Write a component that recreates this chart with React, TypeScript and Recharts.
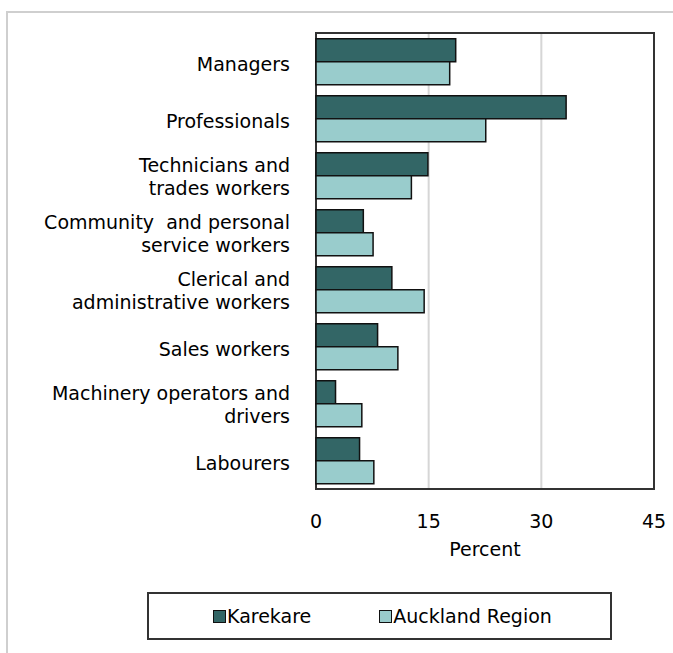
import { BarChart, Bar, XAxis, YAxis, CartesianGrid, ReferenceArea } from 'recharts';

const CATEGORIES = [
  'Managers',
  'Professionals',
  'Technicians and\ntrades workers',
  'Community  and personal\nservice workers',
  'Clerical and\nadministrative workers',
  'Sales workers',
  'Machinery operators and\ndrivers',
  'Labourers',
];
const KAREKARE = [18.6, 33.3, 14.9, 6.3, 10.1, 8.2, 2.6, 5.8];
const AUCKLAND = [17.8, 22.6, 12.7, 7.6, 14.4, 10.9, 6.1, 7.7];
const X_TICKS = [0, 15, 30, 45];

const FONT = '"DejaVu Sans", Verdana, sans-serif';
const FS = 19;
const DARK = '#336666';
const LIGHT = '#99CCCC';

const data = CATEGORIES.map((name, i) => ({
  name,
  karekare: KAREKARE[i],
  auckland: AUCKLAND[i],
}));

function CategoryTick(props: any) {
  const { y, payload } = props;
  const lines: string[] = String(payload.value).split('\n');
  const x = 290;
  if (lines.length === 1) {
    return (
      <text x={x} y={y} dy={9} textAnchor="end" fontSize={FS} fontFamily={FONT} fill="#000">
        {lines[0]}
      </text>
    );
  }
  return (
    <text x={x} y={y} textAnchor="end" fontSize={FS} fontFamily={FONT} fill="#000" style={{ whiteSpace: 'pre' }}>
      <tspan x={x} dy={-4}>{lines[0]}</tspan>
      <tspan x={x} dy={23}>{lines[1]}</tspan>
    </text>
  );
}

function AxisTitle(props: any) {
  const vb = props.viewBox || { x: 316, y: 489, width: 338 };
  return (
    <text x={vb.x + vb.width / 2} y={vb.y + 67} textAnchor="middle" fontSize={FS} fontFamily={FONT} fill="#000">
      Percent
    </text>
  );
}

function Swatch({ color }: { color: string }) {
  return (
    <span
      style={{
        display: 'inline-block',
        width: 13,
        height: 13,
        background: color,
        border: '1.5px solid #111',
        boxSizing: 'border-box',
        marginRight: 1,
      }}
    />
  );
}

export default function App() {
  return (
    <div style={{ position: 'absolute', left: 0, top: 0, width: 673, height: 653, background: '#fff', fontFamily: FONT }}>
      <div
        style={{
          position: 'absolute',
          left: 6,
          top: 11,
          width: 700,
          height: 700,
          borderLeft: '2px solid #cfcfcf',
          borderTop: '2px solid #cfcfcf',
        }}
      />
      <div style={{ position: 'absolute', left: 0, top: 0 }}>
        <BarChart
          width={673}
          height={653}
          data={data}
          layout="vertical"
          margin={{ top: 33, right: 19, bottom: 114, left: 0 }}
          barCategoryGap="10%"
          barGap={0}
        >
          <CartesianGrid horizontal={false} stroke="#d6d6d6" strokeWidth={2} />
          <XAxis
            type="number"
            domain={[0, 45]}
            ticks={X_TICKS}
            axisLine={false}
            tickLine={false}
            tickSize={0}
            tickMargin={26}
            height={50}
            tick={{ fill: '#000', fontSize: FS, fontFamily: FONT }}
            label={<AxisTitle />}
          />
          <YAxis
            type="category"
            dataKey="name"
            width={316}
            axisLine={false}
            tickLine={false}
            interval={0}
            tick={<CategoryTick />}
          />
          <Bar dataKey="karekare" fill={DARK} stroke="#111" strokeWidth={1.5} isAnimationActive={false} />
          <Bar dataKey="auckland" fill={LIGHT} stroke="#111" strokeWidth={1.5} isAnimationActive={false} />
          <ReferenceArea x1={0} x2={45} fill="none" stroke="#333" strokeWidth={2} ifOverflow="visible" />
        </BarChart>
      </div>
      <div
        style={{
          position: 'absolute',
          left: 147,
          top: 592,
          width: 465,
          height: 48,
          border: '2px solid #333',
          boxSizing: 'border-box',
          display: 'flex',
          alignItems: 'center',
          paddingLeft: 64,
          fontSize: FS,
          color: '#000',
        }}
      >
        <span style={{ display: 'flex', alignItems: 'center' }}>
          <Swatch color={DARK} />
          Karekare
        </span>
        <span style={{ display: 'flex', alignItems: 'center', marginLeft: 68 }}>
          <Swatch color={LIGHT} />
          Auckland Region
        </span>
      </div>
    </div>
  );
}
